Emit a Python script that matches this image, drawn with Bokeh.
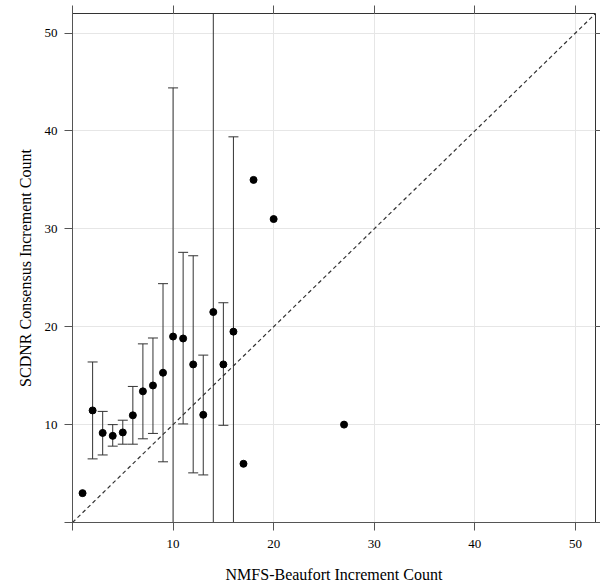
import numpy as np
from bokeh.plotting import figure
from bokeh.models import ColumnDataSource, Range1d, FixedTicker, LinearAxis, Slope
from bokeh.embed import file_html
from bokeh.resources import INLINE

# ---- data ----
nmfs = [1, 2, 3, 4, 5, 6, 7, 8, 9, 10, 11, 12, 13, 14, 15, 16, 17, 18, 20, 27]
scdnr = [3.0, 11.45, 9.15, 8.85, 9.2, 10.95, 13.4, 14.0, 15.3, 19.0,
         18.8, 16.15, 11.0, 21.5, 16.15, 19.5, 6.0, 35.0, 31.0, 10.0]
err_lower = [np.nan, 6.5, 6.9, 7.8, 8.0, 8.0, 8.55, 9.1, 6.2, -6.4,
             10.07, 5.07, 4.86, -13.5, 9.93, -0.4, np.nan, np.nan, np.nan, np.nan]
err_upper = [np.nan, 16.4, 11.35, 10.0, 10.45, 13.9, 18.25, 18.85, 24.4, 44.4,
             27.6, 27.25, 17.1, 56.5, 22.45, 39.4, np.nan, np.nan, np.nan, np.nan]
labelled_ticks = [10, 20, 30, 40, 50]
all_ticks = [0, 10, 20, 30, 40, 50]
axis_max = 52

FONT = "Liberation Serif"
TICK_COL = "#555555"
src = ColumnDataSource(dict(x=nmfs, y=scdnr, lo=err_lower, hi=err_upper))

p = figure(width=600, height=585,
           x_range=Range1d(0, axis_max), y_range=Range1d(0, axis_max),
           output_backend="svg", toolbar_location=None,
           min_border_left=72, min_border_right=0,
           min_border_top=13, min_border_bottom=0,
           x_axis_label="NMFS-Beaufort Increment Count",
           y_axis_label="SCDNR Consensus Increment Count")

p.background_fill_color = "white"
p.border_fill_color = "white"
p.outline_line_color = "#333333"
p.outline_line_width = 1

# grids
for g in (p.xgrid, p.ygrid):
    g.ticker = FixedTicker(ticks=labelled_ticks)
    g.grid_line_color = "#e6e6e6"
    g.grid_line_width = 1

# main axes (0 gets a tick but no label -> drawn as a minor tick)
for ax in (p.xaxis[0], p.yaxis[0]):
    ax.ticker = FixedTicker(ticks=labelled_ticks, minor_ticks=[0])
    ax.major_tick_in = 0
    ax.major_tick_out = 8
    ax.major_tick_line_color = TICK_COL
    ax.minor_tick_in = 0
    ax.minor_tick_out = 8
    ax.minor_tick_line_color = TICK_COL
    ax.axis_line_color = TICK_COL
    ax.major_label_text_font = FONT
    ax.major_label_text_font_size = "13px"
    ax.major_label_text_color = "black"
    ax.major_label_standoff = 7
    ax.axis_label_text_font = FONT
    ax.axis_label_text_font_size = "16px"
    ax.axis_label_text_font_style = "normal"
    ax.axis_label_text_color = "black"
p.xaxis[0].major_label_standoff = 9
p.xaxis[0].axis_label_standoff = 15
p.yaxis[0].axis_label_standoff = 8

# top / right tick-only axes (ticks as minor ticks so no labels are made)
for side, out in (("above", 8), ("right", 5)):
    ax = LinearAxis(ticker=FixedTicker(ticks=[], minor_ticks=all_ticks),
                    major_label_standoff=0, major_tick_line_color=None,
                    minor_tick_in=0, minor_tick_out=out,
                    minor_tick_line_color=TICK_COL, axis_line_color=None)
    p.add_layout(ax, side)

# 1:1 reference line
p.add_layout(Slope(gradient=1, y_intercept=0, line_color="#333333",
                   line_width=1.2, line_dash="4 3"))

# error bars
p.segment(x0="x", y0="lo", x1="x", y1="hi", source=src,
          line_color="#333333", line_width=1)
p.scatter(x="x", y="lo", source=src, marker="dash", size=10,
          line_color="#333333", line_width=1)
p.scatter(x="x", y="hi", source=src, marker="dash", size=10,
          line_color="#333333", line_width=1)

# points
p.scatter(x="x", y="y", source=src, size=7, color="black")

open("out.html", "w").write(file_html(p, INLINE))
